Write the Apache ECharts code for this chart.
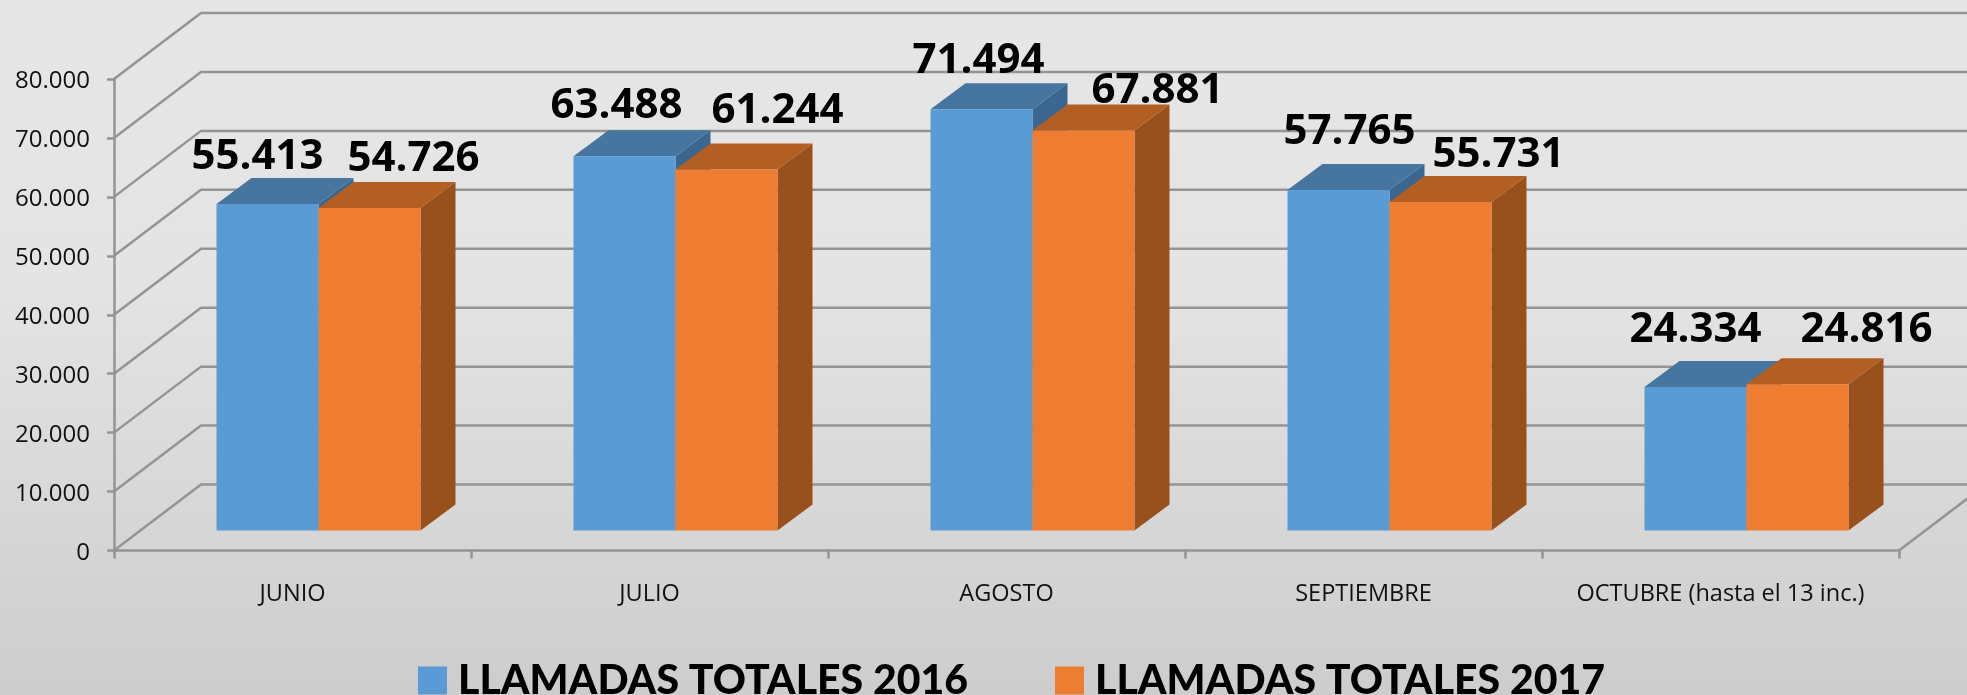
<!DOCTYPE html>
<html>
<head>
<meta charset="utf-8">
<title>Llamadas totales</title>
<script src="https://cdn.jsdelivr.net/npm/echarts@6/dist/echarts.min.js"></script>
<style>
html, body { margin: 0; padding: 0; }
#chart { width: 1967px; height: 695px; }
</style>
</head>
<body>
<div id="chart"></div>
<script>
var meses = ['JUNIO', 'JULIO', 'AGOSTO', 'SEPTIEMBRE', 'OCTUBRE (hasta el 13 inc.)'];
var llamadas2016 = [55413, 63488, 71494, 57765, 24334];
var llamadas2017 = [54726, 61244, 67881, 55731, 24816];
var yTicks = [0, 10000, 20000, 30000, 40000, 50000, 60000, 70000, 80000];

// the labels were dragged by hand in the original, so each one has its own shift
var shift2016 = [[-10, -47], [-8, -50], [-3, -48], [11, -58], [0, -57]];
var shift2017 = [[44, -49], [51, -59], [74, -39], [58, -47], [69, -54]];

// depth of the wall and of the bars, in pixels
var wallDx = 87, wallDy = -66;
var frontDx = 26, frontDy = -20;
var barDx = 35, barDy = -26;
var barW = 102;
var lineColor = '#949494';

function miles(v) {
    return String(v).replace(/\B(?=(\d{3})+$)/g, '.');
}

function renderWall(params, api) {
    var cs = params.coordSys;
    var y = api.coord([0, api.value(0)])[1];
    var x0 = cs.x, x1 = cs.x + cs.width;
    var lineStyle = { stroke: lineColor, lineWidth: 2.5, fill: null };
    var children = [{
        type: 'polyline',
        shape: { points: [[x0, y], [x0 + wallDx, y + wallDy], [x1 + wallDx, y + wallDy]] },
        style: lineStyle
    }];
    if (api.value(0) === 0) {
        // floor edge on the right side
        children.push({
            type: 'line',
            shape: { x1: x1, y1: y, x2: x1 + wallDx, y2: y + wallDy },
            style: lineStyle
        });
    }
    return { type: 'group', children: children };
}

function barRenderer(side, front, top, lateral, shifts) {
    return function (params, api) {
        var i = api.value(0);
        var v = api.value(1);
        var pt = api.coord([i, v]);
        var base = api.coord([i, 0]);
        var xl = pt[0] + frontDx + (side === 0 ? -barW : 0);
        var xr = xl + barW;
        var yt = pt[1] + frontDy;
        var yb = base[1] + frontDy;
        var s = shifts[i];
        return {
            type: 'group',
            children: [
                {
                    type: 'polygon',
                    shape: { points: [[xr, yt], [xr + barDx, yt + barDy], [xr + barDx, yb + barDy], [xr, yb]] },
                    style: { fill: lateral }
                },
                {
                    type: 'polygon',
                    shape: { points: [[xl, yt], [xl + barDx, yt + barDy], [xr + barDx, yt + barDy], [xr, yt]] },
                    style: { fill: top }
                },
                {
                    type: 'rect',
                    shape: { x: xl, y: yt, width: barW, height: yb - yt },
                    style: { fill: front }
                },
                {
                    type: 'text',
                    z2: 100,
                    style: {
                        x: (xl + xr) / 2 + s[0],
                        y: yt + s[1],
                        text: miles(v),
                        align: 'center',
                        verticalAlign: 'middle',
                        fill: '#000',
                        font: 'bold 42px "Open Sans"'
                    }
                }
            ]
        };
    };
}

function toData(values) {
    return values.map(function (v, i) { return [i, v]; });
}

var chart = echarts.init(document.getElementById('chart'));

var option = {
    animation: false,
    backgroundColor: {
        type: 'linear', x: 0, y: 0, x2: 0, y2: 1,
        colorStops: [
            { offset: 0, color: '#E6E6E6' },
            { offset: 0.4, color: '#E4E4E4' },
            { offset: 1, color: '#CDCDCD' }
        ]
    },
    grid: { left: 114, right: 68, top: 79, bottom: 144.5 },
    legend: {
        data: ['LLAMADAS TOTALES 2016', 'LLAMADAS TOTALES 2017'],
        left: 418,
        top: 660,
        padding: 0,
        icon: 'rect',
        itemWidth: 29,
        itemHeight: 28,
        itemGap: 87,
        textStyle: { color: '#000', fontFamily: 'Lato', fontWeight: 900, fontSize: 41, padding: [0, 0, 0, 6] }
    },
    xAxis: {
        type: 'category',
        data: meses,
        axisLine: { lineStyle: { color: lineColor, width: 2.5 } },
        axisTick: { show: true, alignWithLabel: false, interval: 0, length: 8, lineStyle: { color: lineColor, width: 2.5 } },
        axisLabel: { color: '#111', fontFamily: 'Open Sans', fontSize: 23.5, margin: 32, interval: 0 }
    },
    yAxis: {
        type: 'value',
        min: 0,
        max: 80000,
        interval: 10000,
        axisLine: { show: true, lineStyle: { color: lineColor, width: 2.5 } },
        axisTick: { show: true, length: 7, lineStyle: { color: lineColor, width: 2.5 } },
        splitLine: { show: false },
        axisLabel: { color: '#111', fontFamily: 'Open Sans', fontSize: 24, margin: 24, lineHeight: 5, verticalAlign: 'top', formatter: miles }
    },
    series: [
        {
            name: 'pared',
            type: 'custom',
            clip: false,
            silent: true,
            encode: { y: 0 },
            data: yTicks.map(function (t) { return [t]; }),
            renderItem: renderWall
        },
        {
            name: 'LLAMADAS TOTALES 2016',
            type: 'custom',
            clip: false,
            itemStyle: { color: '#5B9BD5' },
            encode: { x: 0, y: 1 },
            data: toData(llamadas2016),
            renderItem: barRenderer(0, '#5B9BD5', '#46759F', '#3B668F', shift2016)
        },
        {
            name: 'LLAMADAS TOTALES 2017',
            type: 'custom',
            clip: false,
            itemStyle: { color: '#ED7D31' },
            encode: { x: 0, y: 1 },
            data: toData(llamadas2017),
            renderItem: barRenderer(1, '#EE7D31', '#B35F24', '#98501D', shift2017)
        }
    ]
};

chart.setOption(option);
</script>
</body>
</html>
